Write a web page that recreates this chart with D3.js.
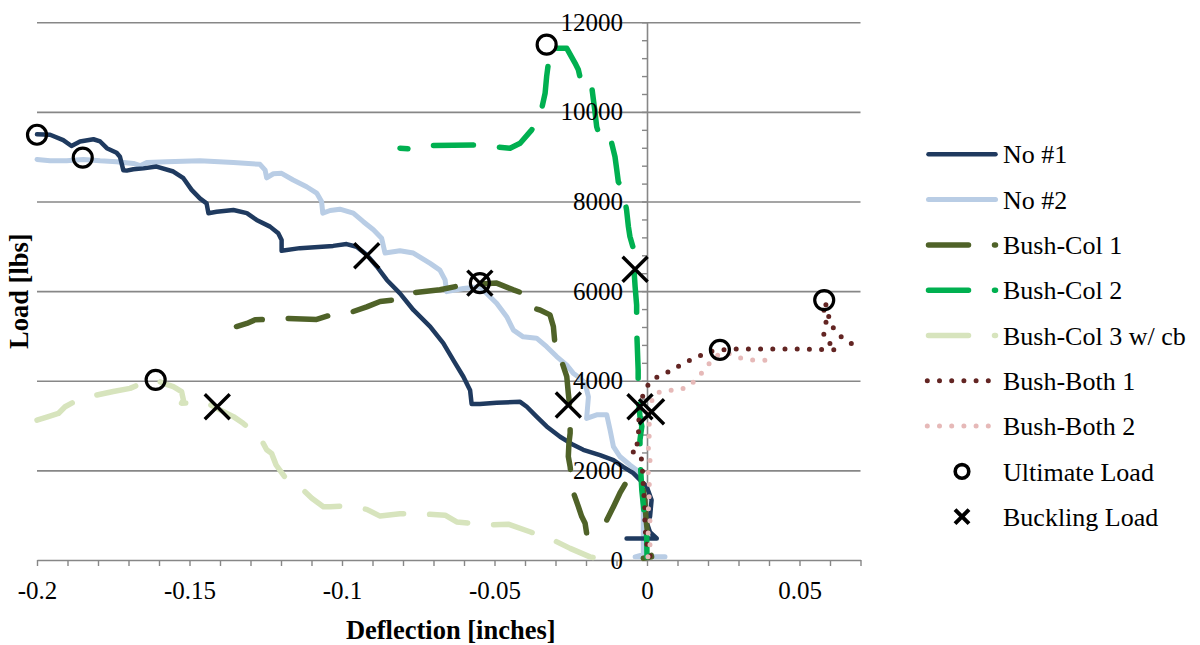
<!DOCTYPE html>
<html>
<head>
<meta charset="utf-8">
<script src="https://cdn.jsdelivr.net/npm/d3@7"></script>
<style>
  html, body { margin: 0; padding: 0; background: #ffffff; }
  svg { display: block; }
  svg text { font-family: "Liberation Serif", "Tinos", "Times New Roman", "DejaVu Serif", serif !important; fill: #000; }
</style>
</head>
<body>
<svg id="chart" width="1200" height="645"></svg>
<script>
// ---- Data: [deflection (in), load (lbs)] ----
const xTickValues = [-0.2, -0.15, -0.1, -0.05, 0, 0.05];
const xTickLabels = ["-0.2", "-0.15", "-0.1", "-0.05", "0", "0.05"];
const yTickValues = [0, 2000, 4000, 6000, 8000, 10000, 12000];
const yTickLabels = ["0", "2000", "4000", "6000", "8000", "10000", "12000"];

const seriesNames = ["No #1", "No #2", "Bush-Col 1", "Bush-Col 2", "Bush-Col 3 w/ cb", "Bush-Both 1", "Bush-Both 2"];

const noOne = [
  [-0.0067, 480], [0.0032, 480], [0.0010, 620], [0.0000, 820], [0.0010, 970], [0.0015, 1340],
  [-0.0001, 1640], [-0.0023, 1790], [-0.0045, 1940], [-0.0078, 2080], [-0.0110, 2230],
  [-0.0154, 2340], [-0.0209, 2460], [-0.0242, 2570], [-0.0285, 2750], [-0.0329, 2980],
  [-0.0362, 3200], [-0.0394, 3420], [-0.0416, 3530], [-0.0493, 3510], [-0.0548, 3480],
  [-0.0575, 3480], [-0.0580, 3790], [-0.0602, 4090], [-0.0635, 4460], [-0.0668, 4840],
  [-0.0711, 5210], [-0.0766, 5580], [-0.0810, 5950], [-0.0853, 6250], [-0.0886, 6550],
  [-0.0919, 6810], [-0.0952, 6990], [-0.0985, 7050], [-0.1029, 7010], [-0.1138, 6960],
  [-0.1198, 6900], [-0.1198, 7140], [-0.1209, 7290], [-0.1236, 7440], [-0.1280, 7590],
  [-0.1312, 7740], [-0.1356, 7810], [-0.1411, 7770], [-0.1438, 7740], [-0.1444, 7960],
  [-0.1466, 8070], [-0.1493, 8260], [-0.1520, 8520], [-0.1553, 8670], [-0.1608, 8780],
  [-0.1651, 8740], [-0.1684, 8720], [-0.1706, 8690], [-0.1717, 8700], [-0.1728, 9000],
  [-0.1739, 9090], [-0.1771, 9190], [-0.1793, 9340], [-0.1815, 9390], [-0.1859, 9340],
  [-0.1887, 9240], [-0.1914, 9370], [-0.1957, 9490], [-0.2000, 9500]
];

const noTwo = [
  [0.0059, 70], [-0.0039, 70], [-0.0012, 120], [-0.0012, 1190], [-0.0017, 1710],
  [-0.0023, 1860], [-0.0034, 2010], [-0.0056, 2120], [-0.0089, 2310], [-0.0110, 2530],
  [-0.0121, 2900], [-0.0132, 3240], [-0.0165, 3240], [-0.0198, 3160], [-0.0192, 3640],
  [-0.0203, 3940], [-0.0220, 4060], [-0.0242, 4170], [-0.0263, 4350], [-0.0296, 4540],
  [-0.0329, 4760], [-0.0362, 4950], [-0.0406, 4980], [-0.0438, 5130], [-0.0460, 5430],
  [-0.0493, 5730], [-0.0548, 6100], [-0.0602, 6060], [-0.0657, 5990], [-0.0662, 6250],
  [-0.0679, 6470], [-0.0711, 6620], [-0.0766, 6850], [-0.0810, 6900], [-0.0859, 6850],
  [-0.0870, 7180], [-0.0897, 7370], [-0.0930, 7550], [-0.0963, 7740], [-0.1007, 7830],
  [-0.1039, 7800], [-0.1063, 7740], [-0.1067, 8000], [-0.1083, 8190], [-0.1116, 8330],
  [-0.1160, 8480], [-0.1198, 8630], [-0.1225, 8620], [-0.1247, 8530], [-0.1252, 8700],
  [-0.1269, 8830], [-0.1356, 8870], [-0.1466, 8910], [-0.1575, 8890], [-0.1640, 8870],
  [-0.1662, 8800], [-0.1684, 8850], [-0.1739, 8890], [-0.1793, 8910], [-0.1848, 8940],
  [-0.1903, 8910], [-0.1957, 8910], [-0.2000, 8940]
];

const bushColOne = [
  [-0.0012, 40], [0.0015, 70], [0.0005, 400], [-0.0003, 900], [-0.0007, 1300],
  [-0.0013, 1600], [-0.0030, 1780], [-0.0049, 1790], [-0.0067, 1750], [-0.0089, 1490],
  [-0.0110, 1190], [-0.0132, 890], [-0.0167, 620], [-0.0198, 600], [-0.0203, 820],
  [-0.0214, 970], [-0.0225, 1190], [-0.0242, 1520], [-0.0247, 1790], [-0.0252, 2080],
  [-0.0258, 2310], [-0.0256, 2600], [-0.0252, 2830], [-0.0252, 3350], [-0.0258, 3720],
  [-0.0263, 4090], [-0.0285, 4540], [-0.0302, 4840], [-0.0307, 5210], [-0.0318, 5470],
  [-0.0351, 5580], [-0.0373, 5620], [-0.0384, 5800], [-0.0406, 5950], [-0.0438, 6030],
  [-0.0493, 6180], [-0.0548, 6160], [-0.0602, 6140], [-0.0679, 6030], [-0.0788, 5950],
  [-0.0832, 5800], [-0.0875, 5770], [-0.0919, 5650], [-0.0974, 5520], [-0.1045, 5450],
  [-0.1083, 5370], [-0.1176, 5390], [-0.1247, 5370], [-0.1285, 5360], [-0.1312, 5280],
  [-0.1346, 5210]
];

const bushColTwo = [
  [0.0000, 70], [-0.0001, 520], [-0.0007, 820], [-0.0012, 1230], [-0.0017, 1560],
  [-0.0023, 2310], [-0.0023, 2680], [-0.0017, 2980], [-0.0023, 3200], [-0.0029, 3640],
  [-0.0029, 4240], [-0.0034, 5170], [-0.0034, 5690], [-0.0039, 6100], [-0.0043, 6520],
  [-0.0045, 6960], [-0.0056, 7220], [-0.0061, 7440], [-0.0067, 7810], [-0.0078, 8260],
  [-0.0094, 8440], [-0.0099, 8700], [-0.0105, 9000], [-0.0121, 9450], [-0.0121, 9560],
  [-0.0160, 9560], [-0.0165, 9670], [-0.0170, 9970], [-0.0181, 10550], [-0.0198, 10530],
  [-0.0220, 10560], [-0.0220, 10790], [-0.0225, 10940], [-0.0236, 11090], [-0.0263, 11420],
  [-0.0307, 11420], [-0.0325, 11380], [-0.0324, 11050], [-0.0329, 10790], [-0.0334, 10420],
  [-0.0345, 10080], [-0.0357, 9820], [-0.0378, 9600], [-0.0416, 9300], [-0.0449, 9190],
  [-0.0498, 9220], [-0.0570, 9260], [-0.0717, 9250], [-0.0766, 9170], [-0.0810, 9190]
];

const bushColThree = [
  [-0.0134, 0], [-0.0187, 70], [-0.0252, 260], [-0.0318, 480], [-0.0384, 630],
  [-0.0455, 800], [-0.0526, 780], [-0.0624, 850], [-0.0662, 1000], [-0.0739, 1030],
  [-0.0810, 1030], [-0.0875, 980], [-0.0919, 1130], [-0.0985, 1210], [-0.1039, 1190],
  [-0.1061, 1190], [-0.1099, 1380], [-0.1127, 1560], [-0.1148, 1670], [-0.1181, 1790],
  [-0.1216, 2120], [-0.1220, 2190], [-0.1231, 2380], [-0.1247, 2460], [-0.1258, 2600],
  [-0.1269, 2750], [-0.1324, 3050], [-0.1356, 3200], [-0.1400, 3350], [-0.1449, 3530],
  [-0.1526, 3500], [-0.1520, 3570], [-0.1526, 3760], [-0.1553, 3870], [-0.1586, 3940],
  [-0.1608, 4020], [-0.1668, 3910], [-0.1695, 3830], [-0.1750, 3760], [-0.1805, 3680],
  [-0.1870, 3560], [-0.1908, 3420], [-0.1930, 3270], [-0.1968, 3190], [-0.2000, 3120]
];

const bushBothOne = [
  [0.0010, 90], [0.0003, 220], [-0.0003, 450], [-0.0007, 780], [-0.0007, 1120],
  [-0.0010, 1450], [-0.0013, 1790], [-0.0016, 2120], [-0.0020, 2340], [-0.0052, 2430],
  [-0.0033, 2540], [-0.0030, 2790], [-0.0023, 3010], [-0.0030, 3240], [-0.0023, 3460],
  [-0.0013, 3680], [-0.0001, 3870], [0.0026, 4060], [0.0065, 4180], [0.0099, 4310],
  [0.0135, 4440], [0.0171, 4550], [0.0207, 4650], [0.0245, 4690], [0.0289, 4710],
  [0.0327, 4710], [0.0407, 4710], [0.0488, 4710], [0.0567, 4700], [0.0622, 4690],
  [0.0578, 4970], [0.0587, 5310], [0.0580, 5580], [0.0584, 5770], [0.0597, 5400],
  [0.0616, 5100], [0.0649, 4910], [0.0684, 4780], [0.0700, 4730]
];

const bushBothTwo = [
  [0.0003, 70], [0.0010, 330], [0.0003, 560], [0.0010, 890], [0.0003, 1230],
  [0.0010, 1560], [0.0003, 1900], [0.0010, 2230], [0.0003, 2570], [0.0010, 2900],
  [0.0003, 3240], [0.0010, 3460], [0.0026, 3720], [0.0065, 3790], [0.0103, 3790],
  [0.0139, 3880], [0.0166, 4070], [0.0193, 4280], [0.0212, 4460], [0.0239, 4610],
  [0.0272, 4600], [0.0310, 4500], [0.0349, 4460], [0.0387, 4460], [0.0414, 4390],
  [0.0420, 4350]
];

const ultimateLoad = [
  [-0.2000, 9490], [-0.1850, 8980], [-0.0329, 11500], [-0.1611, 4020],
  [-0.0548, 6180], [0.0239, 4690], [0.0581, 5800]
];

const bucklingLoad = [
  [-0.0919, 6790], [-0.0548, 6180], [-0.1409, 3420], [-0.0039, 6490],
  [-0.0258, 3460], [-0.0023, 3420], [0.0015, 3310]
];

const seriesData = [noOne, noTwo, bushColOne, bushColTwo, bushColThree, bushBothOne, bushBothTwo];

// ---- Styles ----
// Dashed traces are stroked from their far (left) end so the dash phase starts there.
const seriesStyles = [
  { color: "#1F3A5F", width: 4.5, dash: null },
  { color: "#B9CDE5", width: 5,   dash: null },
  { color: "#4F6228", width: 5.5, dash: "40,26", offset: 13, fromEnd: true },
  { color: "#00B050", width: 5.5, dash: "40,26", offset: 32, fromEnd: true },
  { color: "#D7E4BD", width: 5.5, dash: "40,26", offset: 0,  fromEnd: true },
  { color: "#632523", width: 5,   dash: "0,12.2" },
  { color: "#E6B9B8", width: 5,   dash: "0,12.2" }
];
const drawOrder = [1, 0, 4, 2, 3, 5, 6];
const gridColor = "#878787";
const serifStack = '"Liberation Serif", "Tinos", "Times New Roman", "DejaVu Serif", serif';

const svg = d3.select("#chart");

const x = d3.scaleLinear().domain([-0.2, 0.07]).range([37, 860.5]);
const y = d3.scaleLinear().domain([0, 12000]).range([560, 22.3]);

// Horizontal gridlines
svg.append("g")
  .attr("transform", `translate(${x(-0.2)},0)`)
  .call(d3.axisRight(y).tickValues(yTickValues.filter(v => v > 0))
    .tickSize(x(0.07) - x(-0.2)).tickFormat(""))
  .call(g => g.select(".domain").remove())
  .call(g => g.selectAll(".tick line").attr("stroke", gridColor).attr("stroke-width", 1.6));

// X axis with minor ticks every 0.01
svg.append("g")
  .attr("transform", `translate(0,${y(0)})`)
  .call(d3.axisBottom(x).tickValues(d3.range(-20, 8).map(i => i / 100))
    .tickSize(6).tickSizeOuter(0).tickFormat(""))
  .call(g => g.select(".domain").attr("stroke", gridColor).attr("stroke-width", 1.6))
  .call(g => g.selectAll(".tick line").attr("stroke", gridColor).attr("stroke-width", 1.4));

// Y axis placed at zero deflection with minor ticks every 400
svg.append("g")
  .attr("transform", `translate(${x(0)},0)`)
  .call(d3.axisLeft(y).tickValues(d3.range(0, 12001, 400))
    .tickSize(5).tickSizeOuter(0).tickFormat(""))
  .call(g => g.select(".domain").attr("stroke", gridColor).attr("stroke-width", 1.6))
  .call(g => g.selectAll(".tick line").attr("stroke", gridColor).attr("stroke-width", 1.4));

// Series lines
const line = d3.line().x(d => x(d[0])).y(d => y(d[1]));
const seriesGroup = svg.append("g");
drawOrder.forEach(i => {
  const s = seriesStyles[i];
  const pts = s.fromEnd ? seriesData[i].slice().reverse() : seriesData[i];
  seriesGroup.append("path")
    .datum(pts)
    .attr("d", line)
    .attr("fill", "none")
    .attr("stroke", s.color)
    .attr("stroke-width", s.width)
    .attr("stroke-linecap", "round")
    .attr("stroke-linejoin", "round")
    .attr("stroke-dasharray", s.dash)
    .attr("stroke-dashoffset", s.offset || 0);
});

// Ultimate load markers (open circles)
svg.append("g").selectAll("circle")
  .data(ultimateLoad)
  .join("circle")
  .attr("cx", d => x(d[0]))
  .attr("cy", d => y(d[1]))
  .attr("r", 9.5)
  .attr("fill", "none")
  .attr("stroke", "#000")
  .attr("stroke-width", 3.2);

// Buckling load markers (crosses)
const crossPath = (cx, cy, h) =>
  `M${cx - h},${cy - h}L${cx + h},${cy + h}M${cx - h},${cy + h}L${cx + h},${cy - h}`;
svg.append("g").selectAll("path")
  .data(bucklingLoad)
  .join("path")
  .attr("d", d => crossPath(x(d[0]), y(d[1]), 12.5))
  .attr("fill", "none")
  .attr("stroke", "#000")
  .attr("stroke-width", 3.4);

// Tick labels
svg.append("g")
  .attr("transform", `translate(0,${y(0)})`)
  .call(d3.axisBottom(x).tickValues(xTickValues).tickSize(0).tickPadding(21)
    .tickFormat((d, i) => xTickLabels[i]))
  .call(g => g.select(".domain").remove())
  .call(g => g.selectAll("text").attr("font-size", 25));

svg.append("g")
  .attr("transform", `translate(${x(0)},0)`)
  .call(d3.axisLeft(y).tickValues(yTickValues).tickSize(0).tickPadding(24)
    .tickFormat((d, i) => yTickLabels[i]))
  .call(g => g.select(".domain").remove())
  .call(g => g.selectAll("text").attr("font-size", 25));

// Axis titles
svg.append("text")
  .attr("x", (x(-0.2) + x(0.07)) / 2 + 2)
  .attr("y", 639)
  .attr("text-anchor", "middle")
  .attr("font-size", 26.5)
  .attr("font-weight", "bold")
  .text("Deflection [inches]");

svg.append("text")
  .attr("transform", `translate(28,${(y(0) + y(12000)) / 2}) rotate(-90)`)
  .attr("text-anchor", "middle")
  .attr("font-size", 26.5)
  .attr("font-weight", "bold")
  .text("Load [lbs]");

// Legend
const legendTop = 154.3, legendStep = 45.3;
const legend = svg.append("g");
seriesNames.forEach((name, i) => {
  const s = seriesStyles[i];
  const ly = legendTop + i * legendStep;
  const dotted = s.dash && s.dash.startsWith("0");
  const x0 = dotted ? 927.3 : 928.5;
  const x1 = dotted ? 988.4 : 995.5;
  legend.append("path")
    .attr("d", `M${x0},${ly}L${x1},${ly}`)
    .attr("stroke", s.color)
    .attr("stroke-width", s.width)
    .attr("stroke-linecap", "round")
    .attr("stroke-dasharray", s.dash)
    .attr("fill", "none");
  legend.append("text")
    .attr("x", 1003).attr("y", ly).attr("dy", "0.35em")
    .attr("font-size", 26)
    .text(name);
});
const markerNames = ["Ultimate Load", "Buckling Load"];
const ulY = legendTop + 7 * legendStep;
const blY = legendTop + 8 * legendStep;
legend.append("circle")
  .attr("cx", 962).attr("cy", ulY).attr("r", 6.8)
  .attr("fill", "none").attr("stroke", "#000").attr("stroke-width", 3.6);
legend.append("path")
  .attr("d", crossPath(962, blY, 7))
  .attr("stroke", "#000").attr("stroke-width", 4).attr("fill", "none");
[ulY, blY].forEach((ly, i) => {
  legend.append("text")
    .attr("x", 1003).attr("y", ly).attr("dy", "0.35em")
    .attr("font-size", 26)
    .text(markerNames[i]);
});
</script>
</body>
</html>
